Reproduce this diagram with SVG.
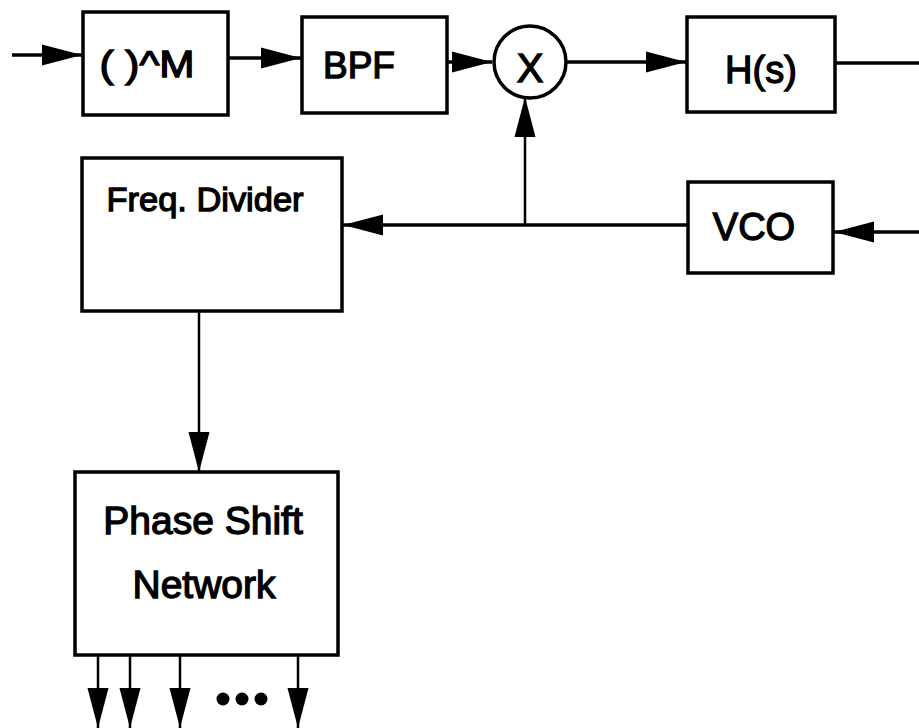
<svg xmlns="http://www.w3.org/2000/svg" width="919" height="728" viewBox="0 0 919 728">
<defs>
<style>
.box{fill:#fff;stroke:#000;stroke-width:3.5}
.lbl{font-family:"Liberation Sans",Arial,sans-serif;fill:#000;stroke:#000;stroke-width:1.3;text-anchor:middle}
.w{fill:none;stroke:#000;stroke-width:3.5}
.t{fill:none;stroke:#000;stroke-width:2.5}
</style>
<marker id="ah" markerUnits="userSpaceOnUse" markerWidth="40" markerHeight="24" viewBox="0 0 38 20" refX="38" refY="10" orient="auto">
<path d="M0,0 L38,10 L0,20 z" fill="#000"/>
</marker>
</defs>
<rect width="919" height="728" fill="#fff"/>
<g id="connectors">
<line class="w" x1="12" y1="55" x2="82" y2="55" marker-end="url(#ah)"/>
<line class="w" x1="228" y1="58" x2="301" y2="58" marker-end="url(#ah)"/>
<line class="w" x1="447" y1="62" x2="492" y2="62" marker-end="url(#ah)"/>
<line class="w" x1="567" y1="62" x2="686" y2="62" marker-end="url(#ah)"/>
<line class="w" x1="835" y1="63" x2="919" y2="63"/>
<line class="w" x1="919" y1="232" x2="834" y2="232" marker-end="url(#ah)"/>
<line class="w" x1="688" y1="225" x2="343" y2="225" marker-end="url(#ah)"/>
<line class="t" x1="525" y1="225" x2="525" y2="97" marker-end="url(#ah)"/>
<line class="t" x1="199" y1="311" x2="199" y2="472" marker-end="url(#ah)"/>
<line class="t" x1="98" y1="655" x2="98" y2="728" marker-end="url(#ah)"/>
<line class="t" x1="130" y1="655" x2="130" y2="728" marker-end="url(#ah)"/>
<line class="t" x1="180" y1="655" x2="180" y2="728" marker-end="url(#ah)"/>
<line class="t" x1="298" y1="655" x2="298" y2="728" marker-end="url(#ah)"/>
<circle cx="223" cy="699" r="6.5"/>
<circle cx="242" cy="699" r="6.5"/>
<circle cx="261" cy="699" r="6.5"/>
</g>
<g id="power">
<rect class="box" x="83" y="12" width="145" height="103"/>
<text class="lbl" x="147" y="77" font-size="37" textLength="95" lengthAdjust="spacingAndGlyphs">( )^M</text>
</g>
<g id="bpf">
<rect class="box" x="302" y="17" width="145" height="96"/>
<text class="lbl" x="359" y="78" font-size="37">BPF</text>
</g>
<g id="mixer">
<circle class="box" cx="530" cy="62" r="36"/>
<text class="lbl" x="530" y="82" font-size="40">X</text>
</g>
<g id="hs">
<rect class="box" x="687" y="17" width="148" height="95"/>
<text class="lbl" x="761" y="83" font-size="38">H(s)</text>
</g>
<g id="vco">
<rect class="box" x="688" y="182" width="145" height="91"/>
<text class="lbl" x="754" y="240" font-size="38">VCO</text>
</g>
<g id="divider">
<rect class="box" x="82" y="158" width="260" height="153"/>
<text class="lbl" x="205" y="211" font-size="34" textLength="197" lengthAdjust="spacingAndGlyphs">Freq. Divider</text>
</g>
<g id="phase">
<rect class="box" x="75" y="472" width="263" height="183"/>
<text class="lbl" x="203" y="534" font-size="39">Phase Shift</text>
<text class="lbl" x="204" y="598" font-size="39">Network</text>
</g>
</svg>
